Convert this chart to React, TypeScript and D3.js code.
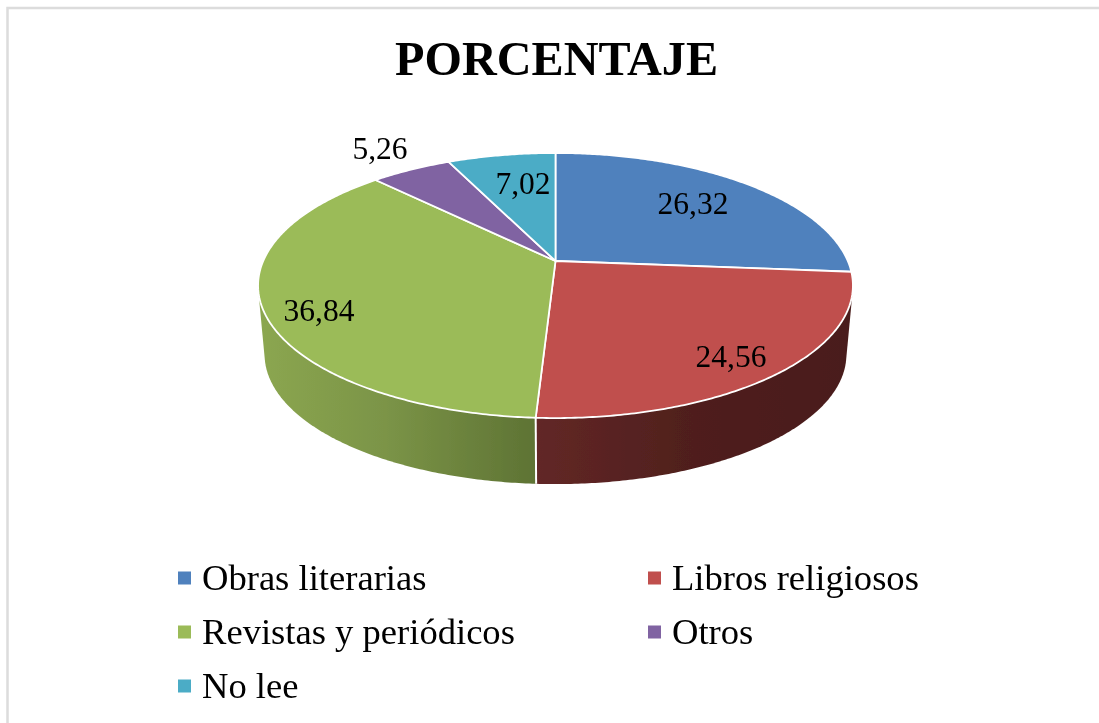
import React from "react";
import * as d3 from "d3";

const title = "PORCENTAJE";
const categories = ["Obras literarias", "Libros religiosos", "Revistas y periódicos", "Otros", "No lee"];
const values = [26.32, 24.56, 36.84, 5.26, 7.02];
const valueLabels = ["26,32", "24,56", "36,84", "5,26", "7,02"];
const colors = ["#4f81bd", "#c0504d", "#9bbb59", "#8064a2", "#4bacc6"];
const labelAnchors: [number, number][] = [[693, 214], [731, 367], [319, 321], [380, 159], [523, 194]];
const legendAnchors: [number, number][] = [[178, 578], [648, 578], [178, 632], [648, 632], [178, 686]];

const W = 1099, H = 723;
const CX = 555.5, APEX_Y = 261, R = 292.3, S = 128, P = 0.185;
const BASE_SCALE = 0.978, BASE_Y = 330.5;

const angle = d3.scaleLinear().domain([0, d3.sum(values)]).range([0, 2 * Math.PI]);
const cum = d3.cumsum(values);
const starts = values.map((_, i) => (i === 0 ? 0 : cum[i - 1]));

function project(a: number, base = false): [number, number] {
  const u = Math.sin(a), v = Math.cos(a), d = 1 + P * v;
  const k = base ? BASE_SCALE : 1;
  return [CX + (k * R * u) / d, (base ? BASE_Y : APEX_Y) - (k * S * v) / d];
}
function arcPts(a0: number, a1: number, base = false) {
  const n = Math.max(2, Math.ceil(Math.abs(a1 - a0) / 0.01));
  return d3.range(n + 1).map((i) => project(a0 + ((a1 - a0) * i) / n, base));
}
const closed = d3.line().curve(d3.curveLinearClosed);
function sidePath(a0: number, a1: number) {
  return closed(d3.polygonHull([...arcPts(a0, a1), ...arcPts(a0, a1, true)])!);
}

export default function App() {
  const a = (v: number) => angle(v);
  const redSide = sidePath(a(starts[1]), a(cum[1]));
  const greenSide = sidePath(a(starts[2]), a(cum[2]));
  const seamTop = project(a(cum[1])), seamBottom = project(a(cum[1]), true);
  const serif = "'Liberation Serif', 'Times New Roman', serif";
  return (
    <svg width={W} height={H} viewBox={`0 0 ${W} ${H}`} style={{ position: "absolute", left: 0, top: 0, background: "#fff" }}>
      <defs>
        <linearGradient id="redSide" gradientUnits="userSpaceOnUse" x1={536} x2={850} y1={0} y2={0}>
          <stop offset="0" stopColor="#622726" />
          <stop offset="0.5" stopColor="#4f1f1d" />
          <stop offset="1" stopColor="#4a1d1b" />
        </linearGradient>
        <linearGradient id="greenSide" gradientUnits="userSpaceOnUse" x1={262} x2={536} y1={0} y2={0}>
          <stop offset="0" stopColor="#8ba650" />
          <stop offset="0.45" stopColor="#7b9447" />
          <stop offset="1" stopColor="#5e7334" />
        </linearGradient>
        <filter id="soft" x="-2%" y="-2%" width="104%" height="104%">
          <feGaussianBlur stdDeviation="0.55" />
        </filter>
      </defs>
      <g filter="url(#soft)">
        <path d="M7.5 723V8H1099" fill="none" stroke="#dcdcdc" strokeWidth={2.5} />
        <path d={greenSide!} fill="url(#greenSide)" />
        <path d={redSide!} fill="url(#redSide)" />
        <line x1={seamTop[0]} y1={seamTop[1]} x2={seamBottom[0]} y2={seamBottom[1]} stroke="#fff" strokeWidth={2} />
        {values.map((v, i) => {
          const a0 = a(starts[i]), a1 = a(cum[i]);
          const d = closed([[CX, APEX_Y], ...arcPts(a0, a1)]);
          return <path key={categories[i]} d={d!} fill={colors[i]} stroke="#fff" strokeWidth={1.8} strokeLinejoin="round" />;
        })}
        <text x={556.5} y={75} textAnchor="middle" fontFamily={serif} fontWeight="bold" fontSize={48.2} fill="#000">{title}</text>
        {valueLabels.map((t, i) => (
          <text key={t} x={labelAnchors[i][0]} y={labelAnchors[i][1]} textAnchor="middle" fontFamily={serif} fontSize={31.5} fill="#000">{t}</text>
        ))}
        {categories.map((c, i) => (
          <g key={c}>
            <rect x={legendAnchors[i][0]} y={legendAnchors[i][1] - 6.5} width={13} height={13} fill={colors[i]} />
            <text x={legendAnchors[i][0] + 24} y={legendAnchors[i][1] + 12} fontFamily={serif} fontSize={36.6} fill="#000">{c}</text>
          </g>
        ))}
      </g>
    </svg>
  );
}
